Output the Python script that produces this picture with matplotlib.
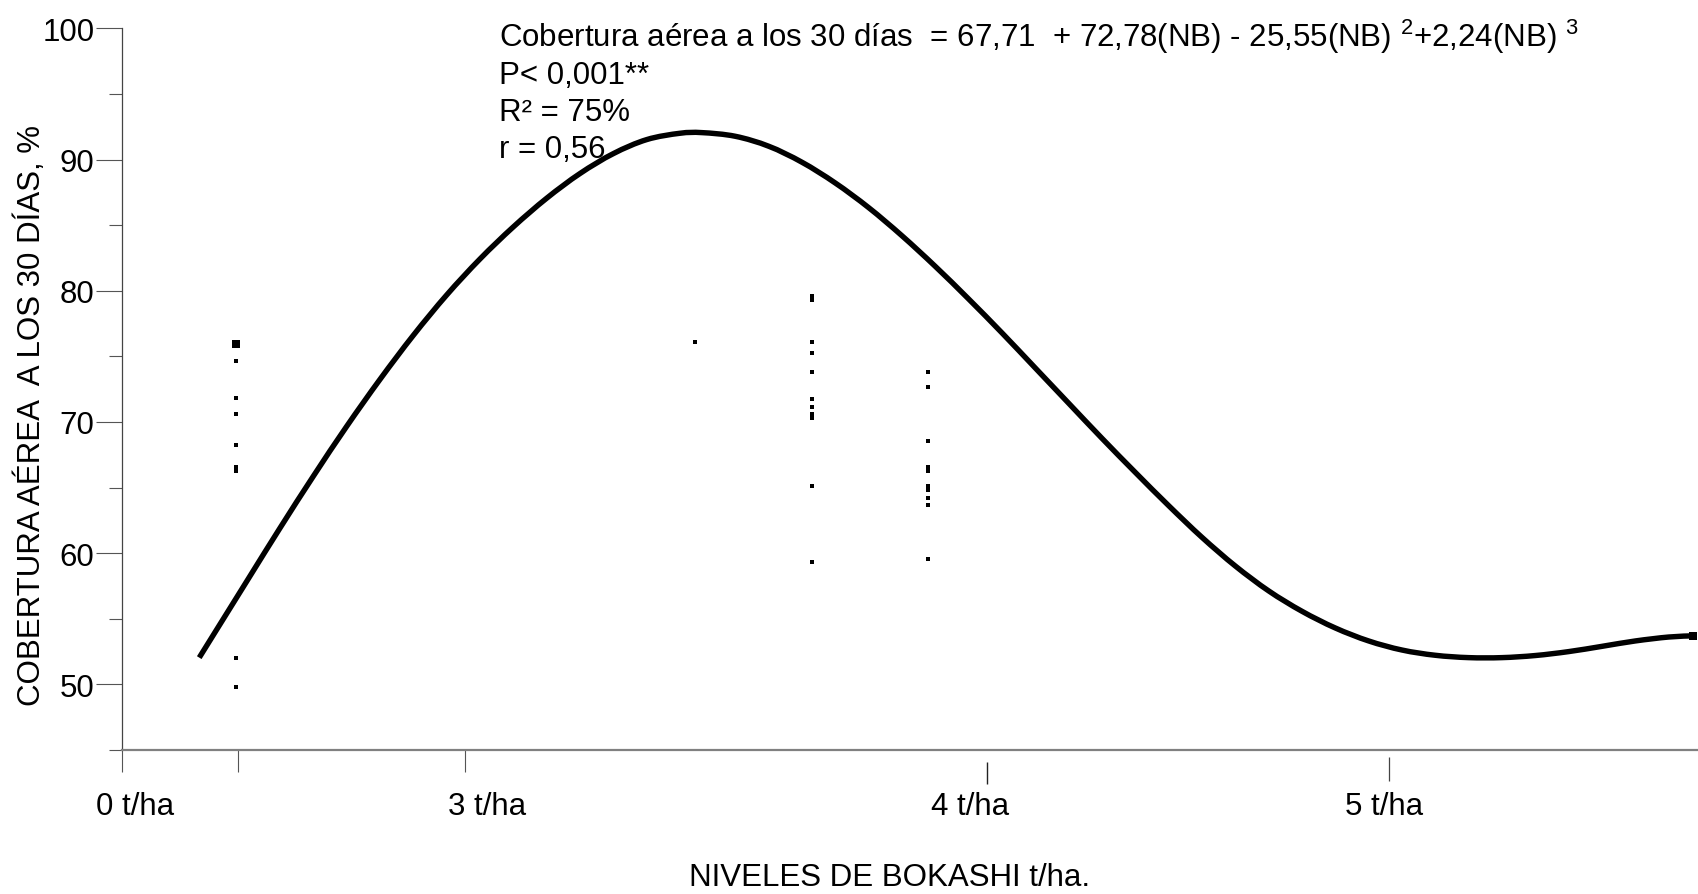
import matplotlib
matplotlib.use("Agg")
import numpy as np
import matplotlib.pyplot as plt
import matplotlib.transforms as mtransforms
from matplotlib.path import Path
from matplotlib.patches import PathPatch
from matplotlib.ticker import FixedLocator

# ---------------------------------------------------------------------------
# Data (x positions are in chart units along the horizontal axis, 0-100)
# ---------------------------------------------------------------------------
# Fitted response curve: cobertura aérea (%) along the bokashi axis
curve_x = [4.92, 7.93, 10.04, 12.16, 14.27, 16.39, 18.50, 20.62, 22.73, 24.84,
           26.96, 29.07, 31.19, 33.31, 35.41, 36.81, 38.93, 41.05, 43.16, 45.27,
           47.39, 49.50, 51.61, 53.73, 55.85, 57.96, 60.08, 62.19, 64.30, 66.42,
           68.53, 70.65, 72.77, 74.88, 76.99, 79.11, 81.22, 83.33, 85.45, 87.56,
           89.68, 91.80, 93.91, 96.02, 98.14, 99.68]
curve_y = [52.04, 57.85, 61.91, 65.87, 69.66, 73.25, 76.60, 79.68, 82.42, 84.86,
           87.05, 88.93, 90.45, 91.52, 92.00, 92.05, 91.77, 91.01, 89.79, 88.21,
           86.33, 84.19, 81.86, 79.37, 76.78, 74.11, 71.42, 68.75, 66.16, 63.62,
           61.21, 59.02, 57.12, 55.57, 54.30, 53.31, 52.62, 52.22, 52.04, 52.04,
           52.20, 52.50, 52.90, 53.31, 53.61, 53.70]

# Observed values per treatment column
group_x = [7.22, 36.39, 43.81, 51.17]
group1 = [74.66, 71.80, 70.63, 68.26, 66.56, 66.26, 52.03, 49.77]
group1_repeated = 75.96          # several coincident observations
group2 = [76.11]
group3 = [79.60, 79.31, 76.11, 75.25, 73.80, 71.73, 71.16, 70.58, 70.32,
          65.14, 59.34]
group4 = [73.80, 72.68, 68.54, 66.56, 66.26, 65.11, 64.83, 64.22, 63.69, 59.55]
groups = [group1, group2, group3, group4]

# Axis ticks and labels
y_major = [50, 60, 70, 80, 90, 100]
y_minor = [45, 55, 65, 75, 85, 95]
x_ticks_attached = [0.0, 7.36, 21.80]
x_ticks_detached = [54.88, 80.40]
x_labels = ["0 t/ha", "3 t/ha", "4 t/ha", "5 t/ha"]
x_label_pos = [0.84, 23.17, 53.82, 80.08]

eq_lines = [
    "Cobertura aérea a los 30 días  = 67,71  + 72,78(NB) - 25,55(NB) $^{2}$+2,24(NB) $^{3}$",
    "P< 0,001**",
    "R² = 75%",
    "r = 0,56",
]

# ---------------------------------------------------------------------------
plt.rcParams["font.family"] = ["Liberation Sans", "DejaVu Sans"]
plt.rcParams["mathtext.fontset"] = "custom"
plt.rcParams["mathtext.rm"] = "Liberation Sans"
plt.rcParams["mathtext.it"] = "Liberation Sans:italic"
plt.rcParams["mathtext.bf"] = "Liberation Sans:bold"

FS = 22.5
TICK_C = "#555555"


def smooth_path(xs, ys):
    """Catmull-Rom spline through the points, expressed as cubic Bezier segments."""
    p = np.column_stack([xs, ys]).astype(float)
    ext = np.vstack([p[0], p, p[-1]])
    verts = [tuple(p[0])]
    codes = [Path.MOVETO]
    for i in range(1, len(ext) - 2):
        p0, p1, p2, p3 = ext[i - 1], ext[i], ext[i + 1], ext[i + 2]
        c1 = p1 + (p2 - p0) / 6.0
        c2 = p2 - (p3 - p1) / 6.0
        verts += [tuple(c1), tuple(c2), tuple(p2)]
        codes += [Path.CURVE4] * 3
    return Path(verts, codes)


fig = plt.figure(figsize=(16.98, 8.95), dpi=100)
fig.patch.set_facecolor("white")
ax = fig.add_axes([0.07167, 0.16089, 0.92833, 0.80637])
ax.set_xlim(0, 100)
ax.set_ylim(45, 100)

# curve
curve = PathPatch(smooth_path(curve_x, curve_y), facecolor="none",
                  edgecolor="black", lw=3.9, capstyle="butt", joinstyle="round",
                  clip_on=False, zorder=3)
ax.add_patch(curve)
ax.plot([curve_x[-1]], [curve_y[-1]], linestyle="none", marker="s", ms=5.2,
        mew=0, color="black", clip_on=False, zorder=3)

# observations
for gx, vals in zip(group_x, groups):
    ax.plot([gx] * len(vals), vals, linestyle="none", marker="s", ms=3.1,
            mew=0, color="black", zorder=4)
ax.plot([group_x[0]], [group1_repeated], linestyle="none", marker="s", ms=6.2,
        mew=0, color="black", zorder=4)

# spines
for side in ("top", "right"):
    ax.spines[side].set_visible(False)
ax.spines["left"].set_color("#444444")
ax.spines["left"].set_linewidth(0.9)
ax.spines["bottom"].set_color("#808080")
ax.spines["bottom"].set_linewidth(1.6)

# y ticks
ax.set_yticks(y_major)
ax.set_yticklabels([str(v) for v in y_major])
ax.yaxis.set_minor_locator(FixedLocator(y_minor))
ax.tick_params(axis="y", which="major", direction="out", length=18.7, width=0.8,
               color=TICK_C, pad=0.8, labelsize=FS)
ax.tick_params(axis="y", which="minor", direction="out", length=9.6, width=0.8,
               color=TICK_C)

# x ticks
ax.set_xticks(x_ticks_attached)
ax.set_xticklabels([""] * len(x_ticks_attached))
ax.tick_params(axis="x", which="major", direction="out", length=15.8, width=0.8,
               color=TICK_C)
trans = mtransforms.blended_transform_factory(ax.transData, ax.transAxes)
ax.vlines([x_ticks_detached[0]], -0.0471, -0.0166, transform=trans,
          colors="#222222", lw=1.0, clip_on=False)
ax.vlines([x_ticks_detached[1]], -0.0425, -0.0101, transform=trans,
          colors="#444444", lw=0.9, clip_on=False)
for lab, pos in zip(x_labels, x_label_pos):
    ax.text(pos, -0.0887, lab, transform=trans, ha="center", va="baseline",
            fontsize=FS, color="black")

# axis titles
fig.text(0.01826, 0.5363, "COBERTURA AÉREA  A LOS 30 DÍAS, %", rotation=90,
         ha="center", va="center", fontsize=FS)
fig.text(0.5241, 0.0101, "NIVELES DE BOKASHI t/ha.", ha="center",
         va="baseline", fontsize=FS)

# regression annotation
for line, yb in zip(eq_lines, [0.9470, 0.9057, 0.8643, 0.8230]):
    fig.text(0.2939, yb, line, ha="left", va="baseline", fontsize=FS)

fig.savefig("out.png", dpi=100, facecolor="white")
